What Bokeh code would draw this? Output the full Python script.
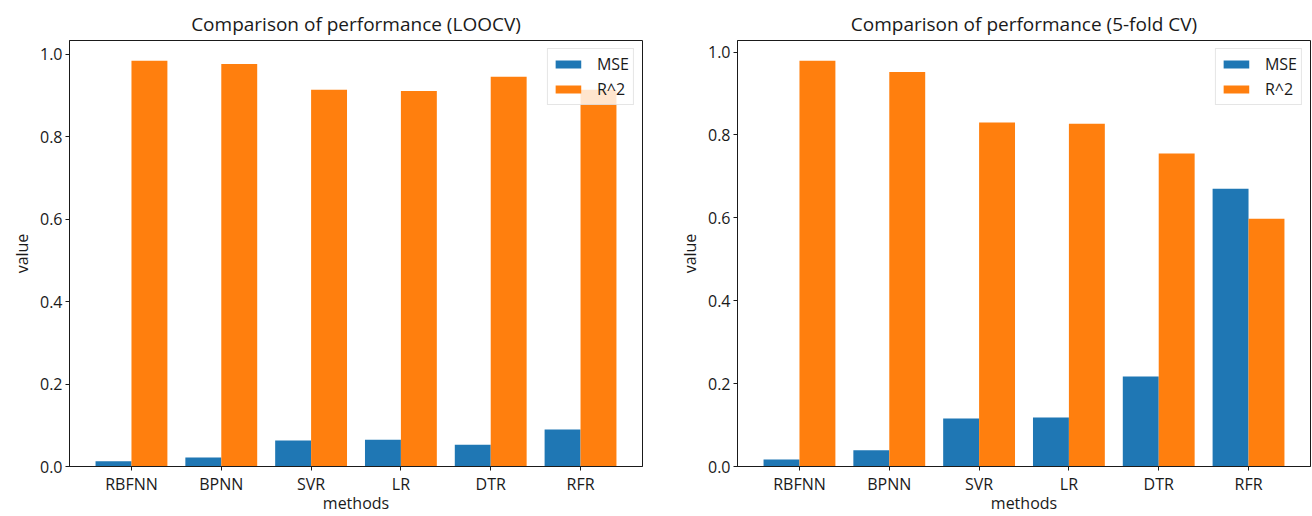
from bokeh.plotting import figure
from bokeh.models import (ColumnDataSource, Range1d, FixedTicker, Legend, LegendItem,
                          CustomJSTickFormatter)
from bokeh.layouts import row
from bokeh.embed import file_html
from bokeh.resources import INLINE

methods = ["RBFNN", "BPNN", "SVR", "LR", "DTR", "RFR"]
loocv_mse = [0.013, 0.022, 0.063, 0.065, 0.053, 0.090]
loocv_r2 = [0.984, 0.976, 0.914, 0.911, 0.945, 0.914]
kfold_mse = [0.017, 0.039, 0.116, 0.118, 0.217, 0.670]
kfold_r2 = [0.979, 0.952, 0.830, 0.827, 0.755, 0.598]
titles = ["Comparison of performance (LOOCV)", "Comparison of performance (5-fold CV)"]
y_ticks = [0.0, 0.2, 0.4, 0.6, 0.8, 1.0]

FONT = "Open Sans"
BLUE = "#1f77b4"
ORANGE = "#ff7f0e"
INK = "#1a1a1a"
BAR_W = 0.4


def make_panel(title, mse, r2, width, border_left, border_right):
    idx = list(range(len(methods)))
    src = ColumnDataSource(dict(
        x_mse=[i - BAR_W / 2 for i in idx],
        x_r2=[i + BAR_W / 2 for i in idx],
        mse=mse, r2=r2))
    n = len(methods)
    lo = -BAR_W
    hi = (n - 1) + BAR_W
    pad = 0.05 * (hi - lo)
    ymax = max(max(mse), max(r2)) * 1.05
    p = figure(width=width, height=516, output_backend="svg", toolbar_location=None,
               x_range=Range1d(lo - pad, hi + pad), y_range=Range1d(0, ymax),
               min_border_left=border_left, min_border_right=border_right,
               min_border_top=40, min_border_bottom=49)
    r1 = p.vbar(x="x_mse", top="mse", width=BAR_W, source=src, color=BLUE, line_width=0)
    r2g = p.vbar(x="x_r2", top="r2", width=BAR_W, source=src, color=ORANGE, line_width=0)
    p.title.text = title
    p.title.align = "center"
    p.title.text_font = FONT
    p.title.text_font_size = "19px"
    p.title.text_font_style = "normal"
    p.title.text_color = INK
    p.title.standoff = 8
    p.xgrid.visible = False
    p.ygrid.visible = False
    p.outline_line_color = INK
    p.outline_line_width = 1
    p.background_fill_color = "white"
    p.border_fill_color = "white"
    p.xaxis.ticker = FixedTicker(ticks=idx)
    p.xaxis.major_label_overrides = {i: m for i, m in zip(idx, methods)}
    p.yaxis.ticker = FixedTicker(ticks=y_ticks)
    p.yaxis.formatter = CustomJSTickFormatter(code="return tick.toFixed(1);")
    p.xaxis.axis_label = "methods"
    p.yaxis.axis_label = "value"
    for ax in (p.xaxis, p.yaxis):
        ax.axis_line_color = INK
        ax.major_tick_line_color = INK
        ax.major_tick_out = 4
        ax.major_tick_in = 0
        ax.minor_tick_line_color = None
        ax.major_label_text_font = FONT
        ax.major_label_text_font_size = "16px"
        ax.major_label_text_color = INK
        ax.axis_label_text_font = FONT
        ax.axis_label_text_font_size = "16px"
        ax.axis_label_text_font_style = "normal"
        ax.axis_label_text_color = INK
        ax.major_label_standoff = 3
    p.xaxis.major_label_standoff = 2
    p.xaxis.axis_label_standoff = -6
    p.yaxis.axis_label_standoff = 4
    legend = Legend(items=[LegendItem(label="MSE", renderers=[r1]),
                           LegendItem(label="R^2", renderers=[r2g])],
                    location="top_right")
    legend.label_text_font = FONT
    legend.label_text_font_size = "16px"
    legend.label_text_color = INK
    legend.glyph_width = 32
    legend.glyph_height = 10
    legend.label_height = 18
    legend.spacing = 3
    legend.padding = 4
    legend.label_standoff = 13
    legend.margin = 8
    legend.border_line_color = "#cccccc"
    legend.background_fill_alpha = 0.8
    p.add_layout(legend)
    return p


p1 = make_panel(titles[0], loocv_mse, loocv_r2, 652, 69, 10)
p2 = make_panel(titles[1], kfold_mse, kfold_r2, 660, 85, 2)
layout = row(p1, p2)
open("out.html", "w").write(file_html(layout, INLINE))
